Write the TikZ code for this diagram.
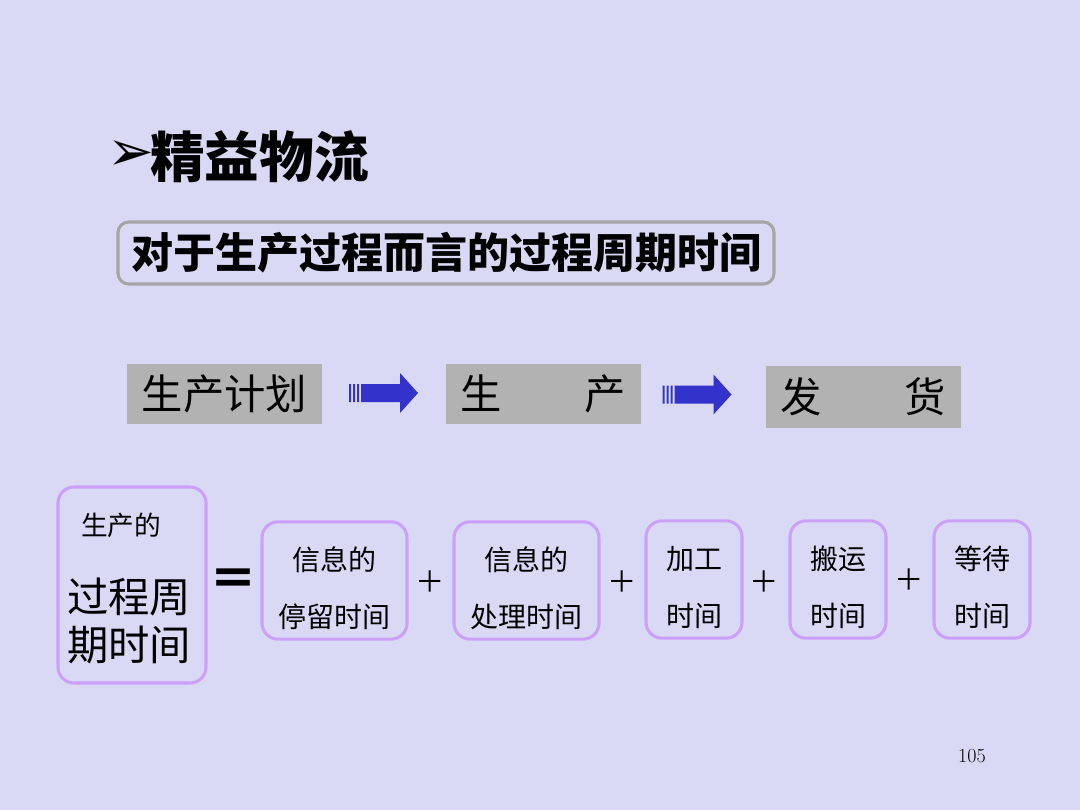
\documentclass[tikz,border=0pt]{standalone}
\usepackage{fontspec}
\newfontfamily\cjk{Noto Sans CJK SC}
\newfontfamily\dejavu{DejaVu Sans}
\usetikzlibrary{calc}
\usetikzlibrary{positioning}

\definecolor{slidebg}{RGB}{217,217,245}
\definecolor{boxgray}{RGB}{178,178,178}
\definecolor{framegray}{RGB}{165,165,165}
\definecolor{lilac}{RGB}{204,160,250}
\definecolor{arrowblue}{RGB}{51,51,204}

\tikzset{
    stepbox/.style={fill=boxgray, minimum width=146pt, minimum height=45pt,
        inner sep=0pt, font=\cjk\fontsize{31}{31}\selectfont},
    timebox/.style={draw=lilac, line width=2.3pt, rounded corners=12pt,
        align=center, inner sep=0pt, minimum height=88pt,
        font=\cjk\fontsize{21}{43}\selectfont},
    opsign/.style={inner sep=0pt, font=\cjk\fontsize{22}{22}\selectfont}
}

\newcommand{\flowarrow}[1]{%
    \begin{scope}[shift={(#1)}]
        \fill[arrowblue] (-34,-9) rectangle (-32,9) (-30,-9) rectangle (-28,9)
            (-26,-9) rectangle (-24,9);
        \fill[arrowblue] (-22,-9) -- (17,-9) -- (17,-20) -- (35,0) -- (17,20)
            -- (17,9) -- (-22,9) -- cycle;
    \end{scope}}
\newcommand{\lowstrut}{\rule{0pt}{29pt}}

\begin{document}
\begin{tikzpicture}[x=0.75pt,y=-0.75pt]
                \fill[slidebg] (0,0) rectangle (1080,810);
                \useasboundingbox (0,0) rectangle (1080,810);

                \node[inner sep=0pt, font=\dejavu\fontsize{42}{42}\selectfont] (bullet) at (131,156) {➢};
                \node[anchor=west, inner sep=0pt, font=\cjk\bfseries\fontsize{41}{41}\selectfont] (title) at (150,157) {精益物流};

                \node[draw=framegray, line width=2.3pt, rounded corners=8pt, minimum width=492pt,
                    minimum height=46.5pt, inner sep=0pt, font=\cjk\bfseries\fontsize{31.5}{31.5}\selectfont]
                    (subtitle) at (446,253) {对于生产过程而言的过程周期时间};

                \node[stepbox] (plan) at (224.5,394) {生产计划};
                \node[stepbox] (prod) at (543.5,394) {生　　产};
                \node[stepbox, minimum height=46.5pt] (ship) at (863.5,397) {发　　货};
                \coordinate (arrA) at ($(plan.east)!0.5!(prod.west)+(-1,-1)$);
                \coordinate (arrB) at ($(prod.east)!0.5!(ship.west)+(-7,-1)$);
                \flowarrow{arrA}
                \flowarrow{arrB}

                \node[timebox, minimum width=111pt, minimum height=147pt] (total) at (132,585) {};
                \node[inner sep=0pt, font=\cjk\fontsize{20}{20}\selectfont] (totalA) at (121,525) {生产的};
                \node[inner sep=0pt, font=\cjk\fontsize{31}{31}\selectfont] (totalB) at (129,597) {过程周};
                \node[inner sep=0pt, font=\cjk\fontsize{31}{31}\selectfont] (totalC) at (129,645) {期时间};

                \node[inner sep=0pt, font=\cjk\bfseries\fontsize{36}{36}\selectfont] (eq) at (233,583) {＝};

                \node[timebox, minimum width=108.75pt] (wait) at (334.5,580.5) {\lowstrut 信息的\\停留时间};
                \node[opsign] (plusA) at (430,582) {＋};
                \node[timebox, minimum width=108.75pt] (info) at (526.5,580.5) {\lowstrut 信息的\\处理时间};
                \node[opsign] (plusB) at (622,582) {＋};
                \node[timebox, minimum width=72pt] (work) at (694,579.5) {\lowstrut 加工\\时间};
                \node[opsign] (plusC) at (764,582) {＋};
                \node[timebox, minimum width=72pt] (move) at (838,579.5) {\lowstrut 搬运\\时间};
                \node[opsign] (plusD) at (909,580) {＋};
                \node[timebox, minimum width=72pt] (queue) at (982,579.5) {\lowstrut 等待\\时间};

                \node[inner sep=0pt, font=\fontsize{15}{15}\selectfont] (page) at (972,756) {105};
            \end{tikzpicture}
\end{document}
